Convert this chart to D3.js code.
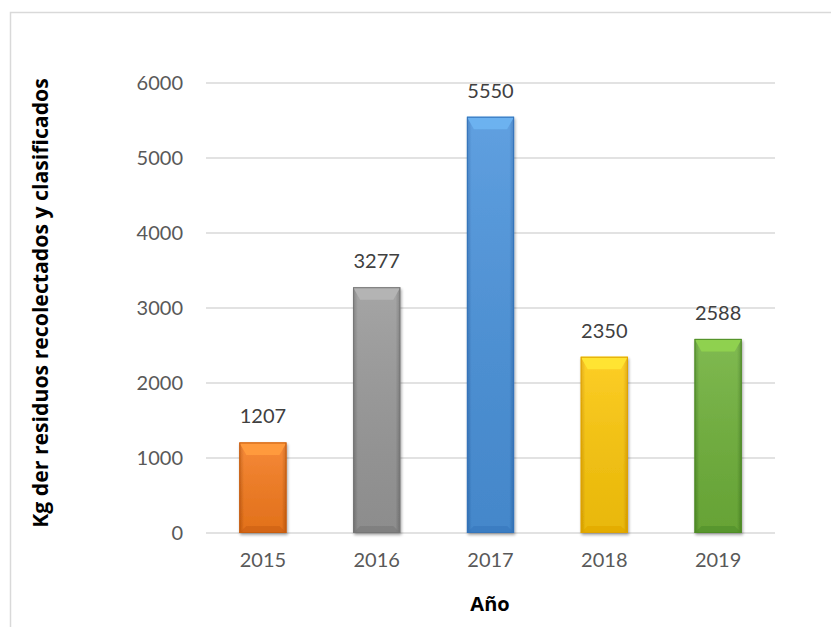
<!DOCTYPE html>
<html><head><meta charset="utf-8">
<script src="https://cdn.jsdelivr.net/npm/d3@7"></script>
<style>body{margin:0;background:#fff;} svg{display:block;}</style>
</head><body>
<svg id="c" width="831" height="627"></svg>
<script>
const categories = ["2015","2016","2017","2018","2019"];
const values = [1207, 3277, 5550, 2350, 2588];
const yTicks = [0,1000,2000,3000,4000,5000,6000];
const barColors = [
  {light:"#ff9a3c", mid:"#f67b1e", dark:"#c95d0e"},
  {light:"#b4b4b4", mid:"#999999", dark:"#767676"},
  {light:"#6cb2f0", mid:"#4a93dc", dark:"#3474bb"},
  {light:"#ffe433", mid:"#fdc80a", dark:"#e0a400"},
  {light:"#8fd14f", mid:"#6fb13a", dark:"#4f8d26"}
];
const yLabel = "Kg der residuos recolectados y clasificados";
const xLabel = "Año";

const svg = d3.select("#c");
const font = "Lato, 'Open Sans', sans-serif";
const m = {left:206, right:775, top:83, bottom:533};

svg.append("rect").attr("x",10.5).attr("y",12.5).attr("width",900).attr("height",700)
  .attr("fill","#fff").attr("stroke","#d9d9d9").attr("stroke-width",1.5);

const x = d3.scaleBand().domain(categories).range([m.left,m.right]).paddingInner(0.585).paddingOuter(0.2925);
const y = d3.scaleLinear().domain([0,6000]).range([m.bottom,m.top]);

const defs = svg.append("defs");
barColors.forEach((c,i)=>{
  const g = defs.append("linearGradient").attr("id","g"+i).attr("x1",0).attr("x2",1).attr("y1",0).attr("y2",0);
  g.append("stop").attr("offset","0%").attr("stop-color",c.dark);
  g.append("stop").attr("offset","10%").attr("stop-color",c.mid);
  g.append("stop").attr("offset","90%").attr("stop-color",c.mid);
  g.append("stop").attr("offset","100%").attr("stop-color",c.dark);
  const v = defs.append("linearGradient").attr("id","v"+i).attr("x1",0).attr("x2",0).attr("y1",0).attr("y2",1);
  v.append("stop").attr("offset","0%").attr("stop-color","#fff").attr("stop-opacity",0.12);
  v.append("stop").attr("offset","100%").attr("stop-color","#000").attr("stop-opacity",0.08);
});
const sh = defs.append("filter").attr("id","sh").attr("x","-20%").attr("y","-20%").attr("width","140%").attr("height","140%");
sh.append("feGaussianBlur").attr("in","SourceAlpha").attr("stdDeviation",1.5);
sh.append("feOffset").attr("dx",1).attr("dy",2).attr("result","o");
sh.append("feComponentTransfer").append("feFuncA").attr("type","linear").attr("slope",0.35);
const mg = sh.append("feMerge"); mg.append("feMergeNode"); mg.append("feMergeNode").attr("in","SourceGraphic");

// gridlines
svg.append("g").selectAll("line").data(yTicks).join("line")
  .attr("x1",m.left).attr("x2",m.right)
  .attr("y1",d=>y(d)).attr("y2",d=>y(d))
  .attr("stroke","#d9d9d9").attr("stroke-width",1.5);

// y axis labels
const yAxis = d3.axisLeft(y).tickValues(yTicks).tickFormat(d3.format("d")).tickSize(0).tickPadding(0);
const ya = svg.append("g").attr("transform",`translate(183,0)`).call(yAxis);
ya.select(".domain").remove();
ya.selectAll("text").attr("font-family",font).attr("font-size",20).attr("fill","#595959");

// x axis labels
const xAxis = d3.axisBottom(x).tickSize(0).tickPadding(0);
const xa = svg.append("g").attr("transform",`translate(0,553)`).call(xAxis);
xa.select(".domain").remove();
xa.selectAll("text").attr("font-family",font).attr("font-size",20).attr("fill","#595959").attr("dy","0.71em");

// bars
const bars = svg.append("g").selectAll("g").data(values).join("g").attr("filter","url(#sh)");
bars.each(function(d,i){
  const g = d3.select(this);
  const bx = x(categories[i]), bw = x.bandwidth(), by = y(d), bh = y(0)-y(d);
  const c = barColors[i];
  const b = 7;
  g.append("rect").attr("x",bx).attr("y",by).attr("width",bw).attr("height",bh).attr("fill",`url(#g${i})`);
  g.append("rect").attr("x",bx).attr("y",by).attr("width",bw).attr("height",bh).attr("fill",`url(#v${i})`);
  g.append("path").attr("d",`M${bx},${by}L${bx+bw},${by}L${bx+bw-b},${by+b*1.8}L${bx+b},${by+b*1.8}Z`).attr("fill",c.light);
  g.append("path").attr("d",`M${bx},${by+bh}L${bx+bw},${by+bh}L${bx+bw-b},${by+bh-b}L${bx+b},${by+bh-b}Z`).attr("fill",c.dark).attr("opacity",0.55);
  g.append("rect").attr("x",bx+0.5).attr("y",by+0.5).attr("width",bw-1).attr("height",bh-1).attr("fill","none").attr("stroke",c.dark).attr("stroke-width",1);
});

// value labels
svg.append("g").selectAll("text").data(values).join("text")
  .attr("x",(d,i)=>x(categories[i])+x.bandwidth()/2)
  .attr("y",d=>y(d)-19)
  .attr("text-anchor","middle").attr("font-family",font).attr("font-size",20).attr("fill","#404040")
  .text(d=>d);

// axis titles
svg.append("text").attr("x",490).attr("y",611).attr("text-anchor","middle")
  .attr("font-family","'Open Sans', sans-serif").attr("font-size",20).attr("font-weight","bold").attr("fill","#000").text(xLabel);
const yt = svg.append("text").attr("transform","translate(48,303) rotate(-90)").attr("text-anchor","middle")
  .attr("font-family","'Open Sans', sans-serif").attr("font-size",20).attr("font-weight","bold").attr("fill","#000").text(yLabel);
const len = yt.node().getComputedTextLength();
yt.attr("font-size", 20*450/len);
</script>
</body></html>
